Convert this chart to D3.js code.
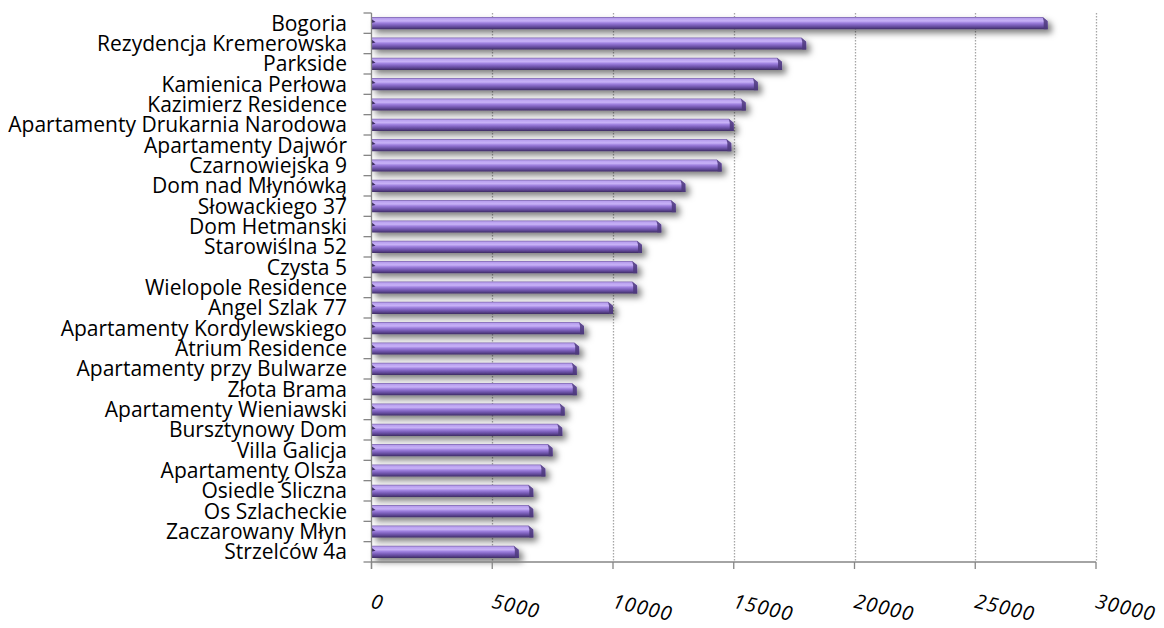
<!DOCTYPE html>
<html>
<head>
<meta charset="utf-8">
<script src="https://cdn.jsdelivr.net/npm/d3@7"></script>
<style>
  body { margin: 0; background: #ffffff; }
  svg { display: block; }
</style>
</head>
<body>
<div id="chart"></div>
<script>
// Investment names, top to bottom
var names = ["Bogoria", "Rezydencja Kremerowska", "Parkside", "Kamienica Perłowa",
    "Kazimierz Residence", "Apartamenty Drukarnia Narodowa", "Apartamenty Dajwór",
    "Czarnowiejska 9", "Dom nad Młynówką", "Słowackiego 37", "Dom Hetmanski",
    "Starowiślna 52", "Czysta 5", "Wielopole Residence", "Angel Szlak 77",
    "Apartamenty Kordylewskiego", "Atrium Residence", "Apartamenty przy Bulwarze",
    "Złota Brama", "Apartamenty Wieniawski", "Bursztynowy Dom", "Villa Galicja",
    "Apartamenty Olsza", "Osiedle Śliczna", "Os Szlacheckie", "Zaczarowany Młyn",
    "Strzelców 4a"];

// Price values
var prices = [28000, 18000, 17000, 16000, 15500, 15000, 14900, 14500, 13000, 12600,
    12000, 11200, 11000, 11000, 10000, 8800, 8600, 8500, 8500, 8000, 7900, 7500,
    7200, 6700, 6700, 6700, 6100];

var xTicks = [0, 5000, 10000, 15000, 20000, 25000, 30000];

var data = names.map(function(n, i) { return {name: n, value: prices[i]}; });

// Figure dimensions
var width = 1164, height = 628;
var plot = {left: 371.5, right: 1096, top: 13, bottom: 562};

var svg = d3.select("#chart").append("svg")
    .attr("width", width)
    .attr("height", height);

// Gradient and shadow for the bars
var defs = svg.append("defs");
var grad = defs.append("linearGradient")
    .attr("id", "barGrad")
    .attr("x1", 0).attr("y1", 0).attr("x2", 0).attr("y2", 1);
[["0%", "#7a62ac"], ["12%", "#b9a0ef"], ["32%", "#c8b2f7"], ["48%", "#9e80de"],
 ["66%", "#7c60bb"], ["84%", "#5c4592"], ["100%", "#3d2c62"]].forEach(function(s) {
    grad.append("stop").attr("offset", s[0]).attr("stop-color", s[1]);
});

var shadow = defs.append("filter")
    .attr("id", "barShadow")
    .attr("x", "-5%").attr("y", "-60%").attr("width", "115%").attr("height", "270%");
shadow.append("feDropShadow")
    .attr("dx", 4).attr("dy", 4)
    .attr("stdDeviation", 3)
    .attr("flood-color", "#000")
    .attr("flood-opacity", 0.5);

// Scales
var x = d3.scaleLinear()
    .domain([0, 30000])
    .range([plot.left, plot.right]);

var y = d3.scaleBand()
    .domain(names)
    .range([plot.top, plot.bottom])
    .paddingInner(0.4)
    .paddingOuter(0.2);

// Dotted gridlines
svg.append("g")
    .selectAll("line")
    .data(xTicks.slice(1))
    .enter()
    .append("line")
    .attr("x1", function(d) { return Math.round(x(d)) + 0.5; })
    .attr("x2", function(d) { return Math.round(x(d)) + 0.5; })
    .attr("y1", plot.top)
    .attr("y2", plot.bottom)
    .style("stroke", "#a6a6a6")
    .style("stroke-width", 1.3)
    .style("stroke-dasharray", "1.5,1.5");

// Bars
var bars = svg.append("g").selectAll("g.bar")
    .data(data)
    .enter()
    .append("g")
    .attr("class", "bar");

bars.append("path")
    .attr("d", function(d) {
        var x0 = x(0), x1 = x(d.value), y0 = y(d.name), y1 = y0 + y.bandwidth();
        return "M" + x0 + "," + y0 + "H" + (x1 - 5) + "L" + x1 + "," + (y0 + 4) +
            "V" + y1 + "H" + x0 + "Z";
    })
    .style("fill", "url(#barGrad)")
    .attr("filter", "url(#barShadow)");

// Bevelled end face
bars.append("path")
    .attr("d", function(d) {
        var x1 = x(d.value), y0 = y(d.name), y1 = y0 + y.bandwidth();
        return "M" + (x1 - 5) + "," + y0 + "L" + x1 + "," + (y0 + 4) +
            "V" + y1 + "H" + (x1 - 4) + "L" + (x1 - 4) + "," + (y0 + 4) + "Z";
    })
    .style("fill", "#4e3a7c")
    .style("opacity", 0.85);

// Small dark facet at the start of the bar
bars.append("path")
    .attr("d", function(d) {
        var x0 = x(0), y0 = y(d.name);
        return "M" + x0 + "," + (y0 + 2) + "L" + (x0 + 4) + "," + (y0 + 5) + "L" + x0 + "," + (y0 + 6) + "Z";
    })
    .style("fill", "#3d2c62");

// Left axis with ticks on band boundaries
var yAxis = svg.append("g").style("stroke", "#868686").style("stroke-width", 1.3);
yAxis.append("line")
    .attr("x1", plot.left).attr("x2", plot.left)
    .attr("y1", plot.top).attr("y2", plot.bottom + 7);
var bounds = d3.range(names.length + 1).map(function(i) { return plot.top + i * y.step(); });
yAxis.selectAll("line.tick")
    .data(bounds)
    .enter()
    .append("line")
    .attr("class", "tick")
    .attr("x1", plot.left - 8).attr("x2", plot.left)
    .attr("y1", function(d) { return d; })
    .attr("y2", function(d) { return d; });

// Bottom axis
var xAxis = svg.append("g").style("stroke", "#868686").style("stroke-width", 1.3);
xAxis.append("line")
    .attr("x1", plot.left).attr("x2", plot.right)
    .attr("y1", plot.bottom).attr("y2", plot.bottom);
xAxis.selectAll("line.tick")
    .data(xTicks)
    .enter()
    .append("line")
    .attr("class", "tick")
    .attr("x1", function(d) { return x(d); })
    .attr("x2", function(d) { return x(d); })
    .attr("y1", plot.bottom).attr("y2", plot.bottom + 7);

// Category labels (size fitted so the longest name spans the same width as the original)
var labels = svg.append("g")
    .style("font-family", "'Open Sans', sans-serif")
    .style("font-size", "20px")
    .selectAll("text")
    .data(names)
    .enter()
    .append("text")
    .attr("x", 347)
    .attr("y", function(d) { return y(d) + y.bandwidth() / 2; })
    .attr("dy", "0.35em")
    .attr("text-anchor", "end")
    .style("fill", "#000")
    .text(function(d) { return d; });

var longest = d3.max(labels.nodes(), function(n) { return n.getComputedTextLength(); });
labels.style("font-size", (20 * 339 / longest).toFixed(2) + "px");

// Rotated italic tick labels
svg.append("g")
    .selectAll("text")
    .data(xTicks)
    .enter()
    .append("text")
    .attr("transform", function(d) { return "translate(" + (x(d) + 2) + ",592) rotate(13)"; })
    .attr("y", 16)
    .style("font-family", "'Open Sans', sans-serif")
    .style("font-style", "italic")
    .style("font-size", "20px")
    .style("letter-spacing", "1.2px")
    .style("fill", "#000")
    .text(function(d) { return d; });
</script>
</body>
</html>
